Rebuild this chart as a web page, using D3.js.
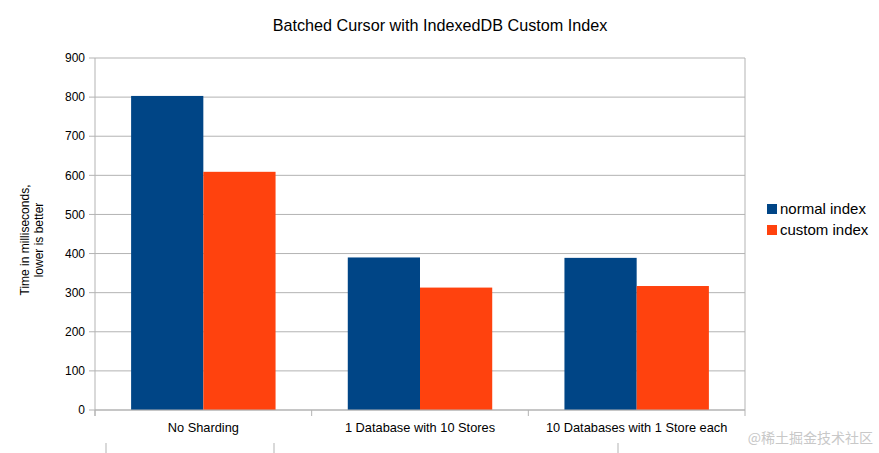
<!DOCTYPE html>
<html>
<meta charset="utf-8">
<style>
  body { margin: 0; background: #fff; }
  text { font-family: "Liberation Sans", Arial, sans-serif; fill: #000; }
</style>
<body>
  <script src="https://d3js.org/d3.v7.min.js"></script>
  <script>
    var categories = ["No Sharding", "1 Database with 10 Stores", "10 Databases with 1 Store each"];
    var seriesNames = ["normal index", "custom index"];
    var normalIndex = [803, 390, 389];
    var customIndex = [609, 313, 317];
    var yTicks = [0, 100, 200, 300, 400, 500, 600, 700, 800, 900];
    var colors = ["#004586", "#ff420e"];

    var width = 879, height = 453;
    var plot = {left: 95, right: 745, top: 58, bottom: 410};

    var svg = d3.select("body").append("svg")
        .attr("width", width)
        .attr("height", height);

    var x = d3.scaleBand()
        .domain(categories)
        .range([plot.left, plot.right])
        .paddingInner(1/3)
        .paddingOuter(1/6);

    var xs = d3.scaleBand()
        .domain(seriesNames)
        .range([0, x.bandwidth()]);

    var y = d3.scaleLinear()
        .domain([0, 900])
        .range([plot.bottom, plot.top]);

    // grid lines
    svg.append("g")
      .selectAll("line")
      .data(yTicks)
      .join("line")
        .attr("x1", plot.left - 6)
        .attr("x2", plot.right)
        .attr("y1", d => y(d))
        .attr("y2", d => y(d))
        .attr("stroke", "#b3b3b3")
        .attr("stroke-width", 1);

    // right border
    svg.append("line")
        .attr("x1", plot.right).attr("x2", plot.right)
        .attr("y1", plot.top).attr("y2", plot.bottom)
        .attr("stroke", "#b3b3b3");

    // bars
    var rows = categories.map((c, i) => ({cat: c, values: [normalIndex[i], customIndex[i]]}));
    svg.append("g")
      .selectAll("g")
      .data(rows)
      .join("g")
        .attr("transform", d => `translate(${x(d.cat)},0)`)
      .selectAll("rect")
      .data(d => d.values.map((v, j) => ({name: seriesNames[j], value: v, j: j})))
      .join("rect")
        .attr("x", d => xs(d.name))
        .attr("width", xs.bandwidth())
        .attr("y", d => y(d.value))
        .attr("height", d => y(0) - y(d.value))
        .attr("fill", d => colors[d.j]);

    // y axis
    svg.append("line")
        .attr("x1", plot.left).attr("x2", plot.left)
        .attr("y1", plot.top).attr("y2", plot.bottom + 6)
        .attr("stroke", "#b3b3b3");

    svg.append("g")
      .selectAll("text")
      .data(yTicks)
      .join("text")
        .attr("x", plot.left - 10)
        .attr("y", d => y(d))
        .attr("dy", "0.35em")
        .attr("text-anchor", "end")
        .style("font-size", "12px")
        .text(d => d);

    // x axis
    svg.append("line")
        .attr("x1", plot.left).attr("x2", plot.right)
        .attr("y1", plot.bottom).attr("y2", plot.bottom)
        .attr("stroke", "#b3b3b3");

    var bounds = [plot.left].concat(categories.map(c => x(c) + x.bandwidth() + x.step() * x.paddingInner() / 2));
    svg.append("g")
      .selectAll("line")
      .data(bounds)
      .join("line")
        .attr("x1", d => d).attr("x2", d => d)
        .attr("y1", plot.bottom).attr("y2", plot.bottom + 6)
        .attr("stroke", "#b3b3b3");

    svg.append("g")
      .selectAll("text")
      .data(categories)
      .join("text")
        .attr("x", d => x(d) + x.bandwidth() / 2)
        .attr("y", 432)
        .attr("text-anchor", "middle")
        .style("font-size", "12.8px")
        .text(d => d);

    // stray lower tick marks
    svg.append("g")
      .selectAll("line")
      .data([106, 274, 618])
      .join("line")
        .attr("x1", d => d).attr("x2", d => d)
        .attr("y1", 443).attr("y2", 453)
        .attr("stroke", "#b3b3b3");

    // y title
    svg.append("text")
        .attr("transform", "translate(30,240) rotate(-90)")
        .attr("text-anchor", "middle")
        .style("font-size", "12px")
      .selectAll("tspan")
      .data(["Time in milliseconds,", "lower is better"])
      .join("tspan")
        .attr("x", 0)
        .attr("dy", (d, i) => i === 0 ? "-0.1em" : "1.15em")
        .text(d => d);

    // title
    svg.append("text")
        .attr("x", 440)
        .attr("y", 31)
        .attr("text-anchor", "middle")
        .style("font-size", "16.2px")
        .text("Batched Cursor with IndexedDB Custom Index");

    // legend
    var legend = svg.append("g")
      .selectAll("g")
      .data(seriesNames)
      .join("g")
        .attr("transform", (d, i) => `translate(767,${204 + i * 21})`);
    legend.append("rect")
        .attr("width", 10).attr("height", 10)
        .attr("fill", (d, i) => colors[i]);
    legend.append("text")
        .attr("x", 13)
        .attr("y", 10)
        .style("font-size", "15px")
        .text(d => d);

    // watermark
    svg.append("text")
        .attr("x", 873)
        .attr("y", 443)
        .attr("text-anchor", "end")
        .style("font-family", "'Noto Sans CJK SC', sans-serif")
        .style("font-size", "14px")
        .style("fill", "#c8c8c8")
        .text("@稀土掘金技术社区");
  </script>
</body>
</html>
